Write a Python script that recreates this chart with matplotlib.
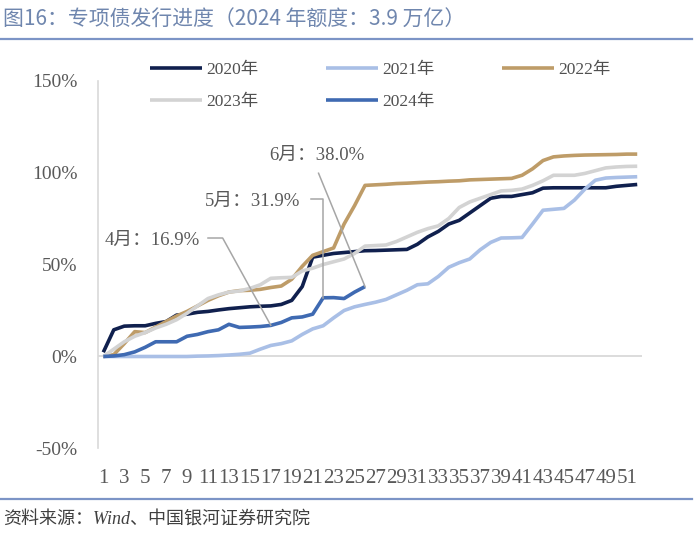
import matplotlib.pyplot as plt
from matplotlib.lines import Line2D

# 专项债发行进度（按周累计，占全年额度比例 %）
weeks = list(range(1, 53))
y2020 = [2.3, 14.5, 16.5, 16.7, 16.7, 18, 19, 22.5, 23, 24, 24.5, 25.3, 26, 26.5, 27, 27.3, 27.5, 28.3,
         30.5, 38, 54, 55, 56, 56.5, 57, 57.5, 57.6, 57.8, 58, 58.2, 61, 65, 68, 72, 74, 78, 82, 86, 87,
         87, 88, 89, 91.5, 91.7, 91.7, 91.7, 91.7, 91.7, 91.7, 92.5, 93, 93.5]
y2021 = [0, 0, 0, 0, 0, 0, 0, 0, 0, 0.2, 0.3, 0.5, 0.8, 1.2, 1.8, 4, 6, 7, 8.5, 12, 15, 16.7, 21, 25,
         27, 28.3, 29.5, 31, 33.5, 36, 39, 39.5, 43.5, 48.5, 51, 53, 58, 62, 64.4, 64.5, 64.7, 72, 79.5,
         80, 80.5, 85, 91, 95.8, 97, 97.3, 97.5, 97.7]
y2022 = [0, 1, 7, 13.5, 13, 16, 19, 22, 24.5, 27.5, 30.5, 33, 35, 35.8, 36, 36.5, 37.5, 38.3, 42, 49,
         55, 57, 59, 72, 82, 93, 93.3, 93.6, 94, 94.2, 94.5, 94.8, 95, 95.3, 95.5, 96, 96.2, 96.4, 96.6,
         96.8, 98.5, 102, 106.5, 108.5, 109, 109.3, 109.5, 109.6, 109.7, 109.8, 110, 110]
y2023 = [0, 4, 8, 11, 13, 15.5, 17.5, 20, 23.5, 27.5, 31.5, 33.5, 35, 35.6, 37, 39, 42.5, 42.8, 43,
         46.5, 48, 50, 51.5, 53, 56, 60, 60.3, 60.6, 62.5, 65, 67.5, 69.5, 71, 75, 81, 84, 86, 88, 90,
         90.3, 91, 93, 95.5, 98.5, 98.5, 98.5, 99.5, 101, 102.5, 103, 103.3, 103.4]
y2024 = [0, 0.3, 1, 2.5, 5, 8, 8, 8, 11, 12, 13.5, 14.5, 17.5, 15.8, 16, 16.3, 16.9, 18.5, 21, 21.5,
         23, 31.9, 32, 31.5, 35, 38.0]

series_names = ['2020年', '2021年', '2022年', '2023年', '2024年']
colors = ['#10204E', '#A9BFE6', '#BE9C68', '#D3D3D3', '#3F6AB2']

# 标注：月份末的进度
notes = [('4月：16.9%', 17, 16.9), ('5月：31.9%', 22, 31.9), ('6月：38.0%', 26, 38.0)]

plt.rcParams['font.family'] = ['Liberation Serif', 'Noto Sans CJK SC']

fig = plt.figure(figsize=(7, 5.35), dpi=100)
ax = fig.add_axes([0.1401, 0.1617, 0.7777, 0.6878])

ax.axhline(0, color='#D9D9D9', lw=1.3, zorder=1)
all_y = [y2020, y2021, y2022, y2023, y2024]
handles = []
for name, c, ys in zip(series_names, colors, all_y):
    h, = ax.plot(weeks[:len(ys)], ys, color=c, lw=2.6, label=name, zorder=2,
                 solid_joinstyle='round', solid_capstyle='butt')
    handles.append(h)

ax.set_xlim(0.5, 52.5)
ax.set_ylim(-50, 150)
ax.set_yticks([-50, 0, 50, 100, 150])
ax.set_yticklabels(['-50%', '0%', '50%', '100%', '150%'])
ax.set_xticks(weeks[::2])
ax.set_xticklabels([str(w) for w in weeks[::2]])
ax.tick_params(axis='both', length=0, labelsize=14, labelcolor='#595959')
ax.tick_params(axis='x', labelsize=15, pad=15)
ax.tick_params(axis='y', pad=15)
for s in ['top', 'right', 'bottom']:
    ax.spines[s].set_visible(False)
ax.spines['left'].set_color('#D9D9D9')
ax.spines['left'].set_linewidth(1.2)

# 标注文字及引线
lc = '#A6A6A6'
tc = '#595959'
t4, w4, v4 = notes[0]
ax.text(10.26, 63.3, t4, ha='right', va='center', fontsize=13.5, color=tc)
ax.plot([11.0, 12.4, w4], [64.4, 64.4, v4], color=lc, lw=1.1, zorder=3)
t5, w5, v5 = notes[1]
ax.text(19.8, 84.1, t5, ha='right', va='center', fontsize=13.5, color=tc)
ax.plot([20.8, w5, w5], [85.4, 85.4, v5], color=lc, lw=1.1, zorder=3)
t6, w6, v6 = notes[2]
ax.text(21.4, 109.5, t6, ha='center', va='center', fontsize=13.5, color=tc)
ax.plot([21.56, w6], [99.6, v6], color=lc, lw=1.1, zorder=3)

# 图例（按行排列）
order = [0, 3, 1, 4, 2]
fig.legend([handles[i] for i in order], [series_names[i] for i in order],
           loc='center left', bbox_to_anchor=(134 / 700, 1 - 86 / 535), ncol=3, frameon=False,
           fontsize=12.5, handlelength=3.0, handletextpad=0.25, columnspacing=3.9, labelspacing=0.95,
           labelcolor='#505050')

# 标题和来源
fig.text(3 / 700, 1 - 20 / 535, '图16：专项债发行进度（2024 年额度：3.9 万亿）', fontsize=15,
         color='#6F86AE', va='center', ha='left', family=['Noto Sans CJK SC'])
fig.add_artist(Line2D([0, 692 / 700], [1 - 38.5 / 535] * 2, color='#7C94C6', lw=1.6))
fig.add_artist(Line2D([0, 692 / 700], [1 - 499 / 535] * 2, color='#7C94C6', lw=1.6))
fig.text(3 / 700, 1 - 520 / 535, '资料来源：Wind、中国银河证券研究院', fontsize=13, color='#404040',
         va='center', ha='left', style='italic')

fig.savefig('out.png', dpi=100)
